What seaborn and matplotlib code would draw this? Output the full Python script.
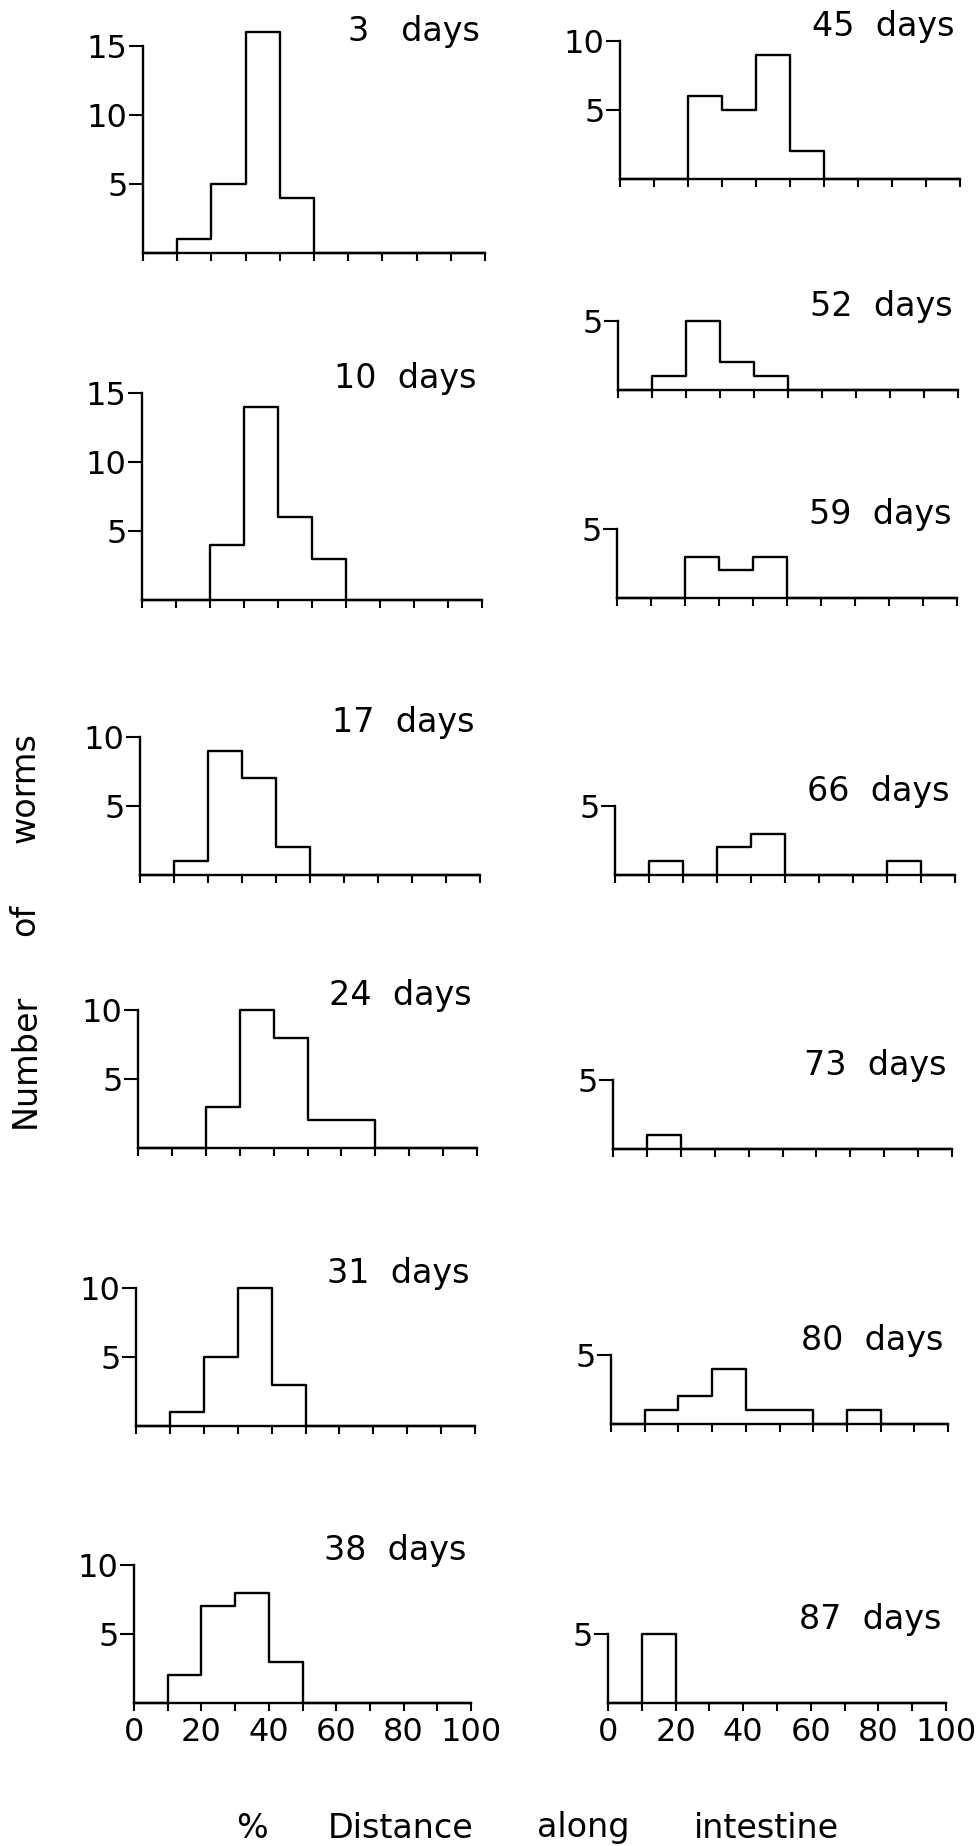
import pandas as pd
import matplotlib.pyplot as plt
import seaborn as sns

# -------------- DATA ------------------------
# 10 % classes of distance along the intestine
edges = list(range(0, 101, 10))
mids = [5, 15, 25, 35, 45, 55, 65, 75, 85, 95]

days = [3, 10, 17, 24, 31, 38, 45, 52, 59, 66, 73, 80, 87]

# number of worms per class
d3 = [0, 1, 5, 16, 4, 0, 0, 0, 0, 0]
d10 = [0, 0, 4, 14, 6, 3, 0, 0, 0, 0]
d17 = [0, 1, 9, 7, 2, 0, 0, 0, 0, 0]
d24 = [0, 0, 3, 10, 8, 2, 2, 0, 0, 0]
d31 = [0, 1, 5, 10, 3, 0, 0, 0, 0, 0]
d38 = [0, 2, 7, 8, 3, 0, 0, 0, 0, 0]
d45 = [0, 0, 6, 5, 9, 2, 0, 0, 0, 0]
d52 = [0, 1, 5, 2, 1, 0, 0, 0, 0, 0]
d59 = [0, 0, 3, 2, 3, 0, 0, 0, 0, 0]
d66 = [0, 1, 0, 2, 3, 0, 0, 0, 1, 0]
d73 = [0, 1, 0, 0, 0, 0, 0, 0, 0, 0]
d80 = [0, 1, 2, 4, 1, 1, 0, 1, 0, 0]
d87 = [0, 5, 0, 0, 0, 0, 0, 0, 0, 0]

counts = [d3, d10, d17, d24, d31, d38, d45, d52, d59, d66, d73, d80, d87]
top_ticks = [15, 15, 10, 10, 10, 10, 10, 5, 5, 5, 5, 5, 5]

x_ticklabels = ["0", "", "20", "", "40", "", "60", "", "80", "", "100"]

df = pd.DataFrame({
    "day": [d for d in days for _ in mids],
    "pos": mids * len(days),
    "count": [c for row in counts for c in row],
})

# -------------- LAYOUT (pixels on the 977x1846 page) ------------------------
W, H = 977, 1846
UNIT = 13.8  # px per worm
# left px, right px, baseline px
panel_px = {
    3: (143, 485, 253), 10: (142, 482, 600), 17: (140, 480, 875),
    24: (138, 477, 1148), 31: (136, 475, 1426), 38: (134, 471, 1703),
    45: (620, 960, 179), 52: (618, 958, 390), 59: (617, 957, 598),
    66: (615, 955, 875), 73: (613, 952, 1149), 80: (611, 948, 1424),
    87: (608, 946, 1703),
}
bottom_row = [38, 87]

sns.set_style("ticks")
plt.rcParams["font.family"] = ["DejaVu Sans"]
plt.rcParams["axes.linewidth"] = 1.7
plt.rcParams["text.color"] = "black"
plt.rcParams["axes.edgecolor"] = "black"

fig = plt.figure(figsize=(W / 100, H / 100), dpi=100)

for day, top in zip(days, top_ticks):
    left, right, base = panel_px[day]
    sub = df[df["day"] == day]
    ytop = max(top, sub["count"].max()) + 0.6
    h = ytop * UNIT
    ax = fig.add_axes([left / W, 1 - base / H, (right - left) / W, h / H])

    sns.histplot(data=sub, x="pos", weights="count", bins=edges,
                 element="step", fill=False, color="black",
                 linewidth=1.7, clip_on=False, ax=ax)

    ax.set_xlim(0, 100)
    ax.set_ylim(0, ytop)
    ax.set_xlabel("")
    ax.set_ylabel("")
    sns.despine(ax=ax)
    ax.spines["left"].set_bounds(0, top)
    ax.spines["bottom"].set_bounds(0, 100)

    ax.set_xticks(edges)
    if day in bottom_row:
        ax.set_xticklabels(x_ticklabels)
    else:
        ax.set_xticklabels([])
    ax.set_yticks(list(range(5, top + 1, 5)))

    ax.tick_params(axis="x", direction="out", length=6, width=1.5,
                   labelsize=23, pad=4, colors="black")
    ax.tick_params(axis="y", direction="out", length=10, width=1.5,
                   labelsize=23, pad=1, colors="black")
    ax.patch.set_alpha(0)

    gap = "   " if day < 10 else "  "
    ax.text(0.985, top + 1.05, f"{day}{gap}days",
            transform=ax.get_yaxis_transform(),
            ha="right", va="center", fontsize=24, color="black")

# -------------- AXIS TITLES ------------------------
for word, xp in [("%", 252), ("Distance", 401), ("along", 583), ("intestine", 766)]:
    fig.text(xp / W, 1 - 1828 / H, word, ha="center", va="center",
             fontsize=24, color="black")

for word, yp in [("Number", 1061), ("of", 920), ("worms", 788)]:
    fig.text(25 / W, 1 - yp / H, word, ha="center", va="center",
             rotation=90, fontsize=24, color="black")

plt.savefig("out.png", dpi=100)
plt.close()
